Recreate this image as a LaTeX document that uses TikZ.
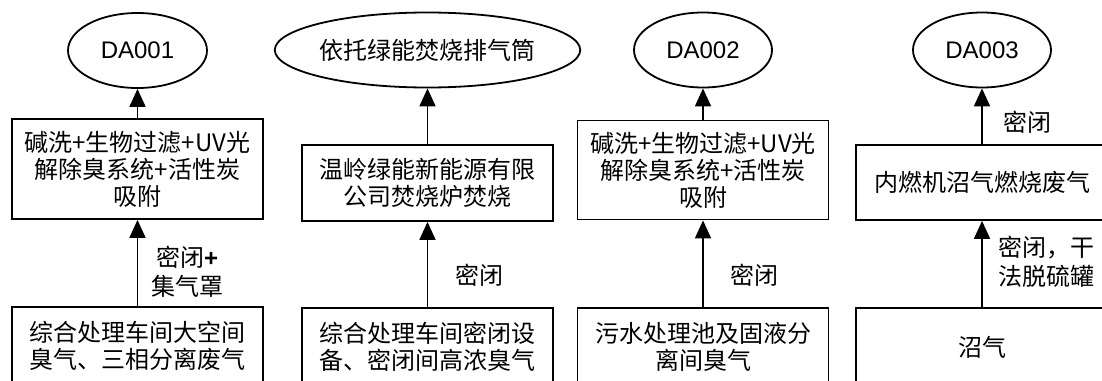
\documentclass[tikz,border=0pt]{standalone}
\usepackage{fontspec}
\setmainfont{Noto Sans CJK SC}
\newfontfamily\latin{Liberation Sans}
\usetikzlibrary{shapes.geometric,arrows.meta}
\tikzset{
  box/.style={draw,line width=1.8pt,rectangle,minimum width=251pt,inner sep=0pt,align=center,
    font=\fontsize{24}{27}\selectfont},
  oval/.style={draw,line width=1.8pt,ellipse,inner sep=0pt,minimum height=75pt,
    font=\fontsize{24}{27}\selectfont},
  lbl/.style={anchor=west,inner sep=0pt,align=center,font=\fontsize{24}{29}\selectfont},
  arr/.style={line width=1.8pt,-{Triangle[length=18pt,width=16pt]}}
}
\begin{document}
\begin{tikzpicture}[x=1pt,y=-1pt]
\useasboundingbox (0,0) rectangle (1102,380);
\clip (0,0) rectangle (1102,380);
% column 1
\node[oval,minimum width=139pt] (e1) at (137.5,50.5) {\latin DA001};
\node[box,minimum height=100pt] (b1) at (137.5,169) {碱洗+生物过滤+UV光\\解除臭系统+活性炭\\吸附};
\node[box,minimum height=78pt] (s1) at (137.5,346) {综合处理车间大空间\\臭气、三相分离废气};
\draw[arr] (b1) -- (e1);
\draw[arr] (s1) -- (b1);
\node[lbl] (l1) at (151,272) {密闭{\latin\bfseries +}\\集气罩};
% column 2
\node[oval,minimum width=251pt] (e2) at (427.5,50) {依托绿能焚烧排气筒};
\node[box,minimum height=76pt] (b2) at (427.5,183) {温岭绿能新能源有限\\公司焚烧炉焚烧};
\node[box,minimum height=78pt] (s2) at (427.5,347) {综合处理车间密闭设\\备、密闭间高浓臭气};
\draw[arr] (b2) -- (e2);
\draw[arr] (s2) -- (b2);
\node[lbl] (l2) at (455,275) {密闭};
% column 3
\node[oval,minimum width=138pt] (e3) at (703,50) {\latin DA002};
\node[box,minimum height=99pt] (b3) at (703,170) {碱洗+生物过滤+UV光\\解除臭系统+活性炭\\吸附};
\node[box,minimum height=78pt] (s3) at (703,347) {污水处理池及固液分\\离间臭气};
\draw[arr] (b3) -- (e3);
\draw[arr] (s3) -- (b3);
\node[lbl] (l3) at (730,275) {密闭};
% column 4
\node[oval,minimum width=138pt] (e4) at (982,50) {\latin DA003};
\node[box,minimum width=252pt,minimum height=75pt] (b4) at (982,182.5) {内燃机沼气燃烧废气};
\node[box,minimum width=252pt,minimum height=78pt] (s4) at (982,347) {沼气};
\draw[arr] (b4) -- (e4);
\draw[arr] (s4) -- (b4);
\node[lbl] (l4a) at (1003,122) {密闭};
\node[lbl,align=left] (l4b) at (998,262) {密闭，干\\法脱硫罐};
\end{tikzpicture}
\end{document}
